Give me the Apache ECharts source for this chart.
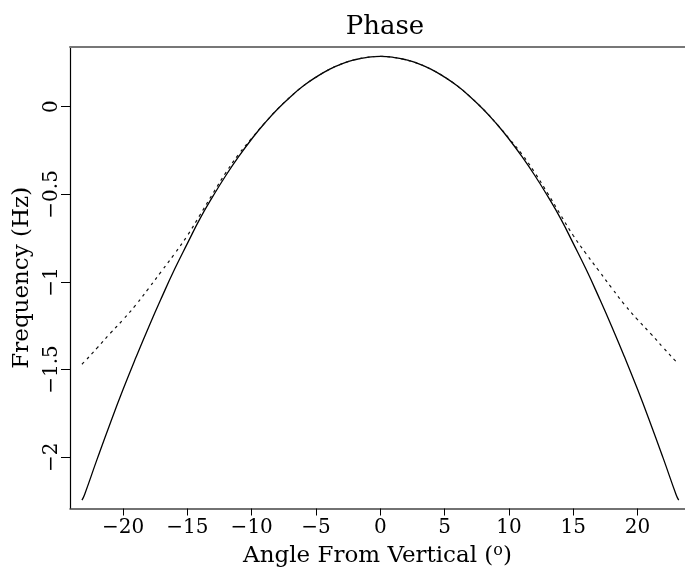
<!DOCTYPE html>
<html><head><meta charset="utf-8">
<script src="https://cdn.jsdelivr.net/npm/echarts@6/dist/echarts.min.js"></script>
<style>html,body{margin:0;padding:0;background:#fff}#c{width:685px;height:573px}</style>
</head><body><div id="c"></div>
<script>
const angles = [-23.2, -23, -22, -21, -20, -19, -18, -17, -16, -15, -14, -13, -12, -11, -10, -9, -8, -7, -6, -5, -4, -3, -2, -1,
  0, 1, 2, 3, 4, 5, 6, 7, 8, 9, 10, 11, 12, 13, 14, 15, 16, 17, 18, 19, 20, 21, 22, 23, 23.2];
const solidFreq = [-2.245, -2.214, -2.007, -1.806, -1.613, -1.430, -1.255, -1.088, -0.928, -0.780, -0.636, -0.509, -0.391, -0.283, -0.184, -0.094, -0.014, 0.056, 0.118, 0.169, 0.212, 0.245, 0.268, 0.282,
  0.287, 0.282, 0.268, 0.245, 0.212, 0.169, 0.118, 0.056, -0.014, -0.094, -0.184, -0.283, -0.391, -0.509, -0.636, -0.780, -0.928, -1.088, -1.255, -1.430, -1.613, -1.806, -2.007, -2.214, -2.245];
const dottedFreq = [-1.470, -1.455, -1.375, -1.293, -1.215, -1.130, -1.035, -0.937, -0.839, -0.735, -0.615, -0.493, -0.375, -0.270, -0.180, -0.094, -0.014, 0.056, 0.118, 0.169, 0.212, 0.245, 0.268, 0.282,
  0.287, 0.282, 0.268, 0.245, 0.212, 0.169, 0.118, 0.056, -0.014, -0.094, -0.180, -0.270, -0.375, -0.493, -0.615, -0.735, -0.839, -0.937, -1.035, -1.130, -1.215, -1.293, -1.375, -1.455, -1.470];
const xTicks = [-20, -15, -10, -5, 0, 5, 10, 15, 20];
const yTicks = [-2, -1.5, -1, -0.5, 0];

const FONT = 'DejaVu Serif';
const fmt = v => String(v).replace('-', '\u2212');
const chart = echarts.init(document.getElementById('c'), null, {renderer: 'canvas'});
chart.setOption({
  animation: false,
  backgroundColor: '#fff',
  title: {
    text: 'Phase', left: 380, top: 9, textAlign: 'center',
    textStyle: {fontFamily: FONT, fontSize: 26, fontWeight: 'normal', color: '#000'}
  },
  grid: {left: 70, right: 0, top: 47, bottom: 60, containLabel: false},
  xAxis: [{
    type: 'value', position: 'bottom', min: -24.13, max: 23.69,
    axisLine: {onZero: false, lineStyle: {color: '#444', width: 1.5}},
    axisTick: {customValues: xTicks, length: 7, lineStyle: {color: '#000', width: 1}},
    axisLabel: {customValues: xTicks, formatter: fmt, fontFamily: FONT, fontSize: 20, color: '#000', margin: 9},
    splitLine: {show: false},
    name: 'Angle From Vertical ({sup|o})', nameLocation: 'middle', nameGap: 34,
    nameTextStyle: {fontFamily: FONT, fontSize: 23, color: '#000',
      rich: {sup: {fontFamily: FONT, fontSize: 16, color: '#000', padding: [0, 0, 12, 0]}}}
  }, {
    type: 'value', position: 'top', min: -24.13, max: 23.69,
    axisLine: {show: true, onZero: false, lineStyle: {color: '#777', width: 2}},
    axisTick: {show: false}, axisLabel: {show: false}, splitLine: {show: false}
  }],
  yAxis: {
    type: 'value', min: -2.293, max: 0.341,
    axisLine: {show: true, onZero: false, lineStyle: {color: '#000', width: 1.2}},
    axisTick: {show: true, customValues: yTicks, length: 9, lineStyle: {color: '#000', width: 1}},
    axisLabel: {customValues: yTicks, formatter: fmt, rotate: 90, fontFamily: FONT, fontSize: 20, color: '#000', margin: 8},
    splitLine: {show: false},
    name: 'Frequency (Hz)', nameLocation: 'middle', nameRotate: 90, nameGap: 36,
    nameTextStyle: {fontFamily: FONT, fontSize: 23, color: '#000'}
  },
  series: [{
    type: 'line', xAxisIndex: 0, showSymbol: false, smooth: true,
    data: angles.map((a, i) => [a, solidFreq[i]]),
    lineStyle: {color: '#000', width: 1.3}
  }, {
    type: 'line', xAxisIndex: 0, showSymbol: false, smooth: true,
    data: angles.map((a, i) => [a, dottedFreq[i]]),
    lineStyle: {color: '#111', width: 1.2, type: [3, 4]}
  }]
});
</script></body></html>
